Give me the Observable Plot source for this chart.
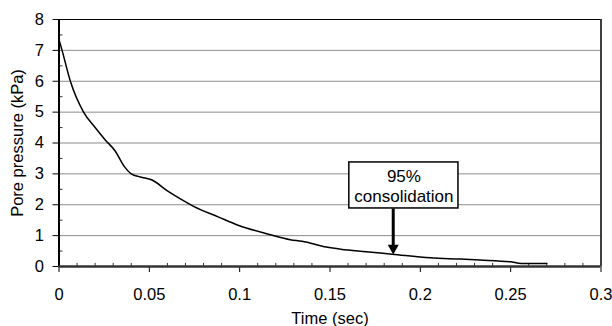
<!DOCTYPE html>
<html><head><meta charset="utf-8">
<script src="https://cdn.jsdelivr.net/npm/d3@7"></script>
<script src="https://cdn.jsdelivr.net/npm/@observablehq/plot@0.6"></script>
<style>
body{margin:0;background:#fff;}
#chart svg{display:block;}
</style>
</head><body><div id="chart"></div>
<script>
// Curve readings (time in sec, pore pressure in kPa)
const time = [0, 0.0017, 0.0063, 0.0136, 0.020, 0.0256, 0.031, 0.036, 0.040, 0.045, 0.0515, 0.0598, 0.0672, 0.0745, 0.0884, 0.0995, 0.117, 0.128, 0.1345, 0.148, 0.156, 0.17, 0.1844, 0.2056, 0.222, 0.233, 0.25, 0.256, 0.27];
const pressure = [7.35, 7.0, 6.0, 5.0, 4.5, 4.1, 3.75, 3.25, 3.0, 2.9, 2.8, 2.46, 2.19, 1.95, 1.6, 1.33, 1.03, 0.87, 0.82, 0.63, 0.56, 0.48, 0.40, 0.28, 0.24, 0.21, 0.15, 0.1, 0.1];

const xTicks = [0, 0.05, 0.1, 0.15, 0.2, 0.25, 0.3];
const xTickLabels = ["0", "0.05", "0.1", "0.15", "0.2", "0.25", "0.3"];
const xMinor = [0.01,0.02,0.03,0.04,0.06,0.07,0.08,0.09,0.11,0.12,0.13,0.14,0.16,0.17,0.18,0.19,0.21,0.22,0.23,0.24,0.26,0.27,0.28,0.29];
const yTicks = [0, 1, 2, 3, 4, 5, 6, 7, 8];
const yGrid = [1, 2, 3, 4, 5, 6, 7];
const yMinor = [0.5, 1.5, 2.5, 3.5, 4.5, 5.5, 6.5, 7.5];

// Annotation
const annotLabel = "95%\nconsolidation";
const annotTime = 0.185;       // where the arrow points
const annotPressure = 0.39;
const annotBoxTime = [0.1607, 0.2211];
const annotBoxPressure = [1.88, 3.37];
const annotTextTime = 0.1909;
const annotTextPressure = 2.62;

const curve = time.map((t, i) => ({t, p: pressure[i]}));
const FONT = '"Liberation Sans", Arial, Helvetica, sans-serif';

const chart = Plot.plot({
  width: 612,
  height: 326,
  marginLeft: 58.5,
  marginRight: 11.5,
  marginTop: 19,
  marginBottom: 60,
  style: {fontFamily: FONT, fontSize: "16.5px", background: "#fff", color: "#000"},
  x: {domain: [0, 0.3]},
  y: {domain: [0, 8]},
  marks: [
    Plot.ruleY(yGrid, {stroke: "#8c8c8c", strokeWidth: 1}),
    Plot.ruleY([8], {stroke: "#000", strokeWidth: 1.2}),
    Plot.ruleX([0.3], {stroke: "#000", strokeWidth: 1.5}),
    Plot.ruleX(xMinor, {y1: 0, y2: 0.1, stroke: "#333", strokeWidth: 1}),
    Plot.ruleY(yMinor, {x1: 0, x2: 0.0022, stroke: "#333", strokeWidth: 1}),
    Plot.axisY({ticks: yTicks, tickSize: 6, tickPadding: 9, fontSize: 16.5, label: "Pore pressure (kPa)", labelAnchor: "center", labelOffset: 48, labelArrow: "none"}),
    Plot.axisX({ticks: xTicks, tickFormat: (d, i) => xTickLabels[i], tickSize: 6, tickPadding: 16, fontSize: 16.5, label: "Time (sec)", labelAnchor: "center", labelOffset: 57, labelArrow: "none"}),
    Plot.line(curve, {x: "t", y: "p", stroke: "#000", strokeWidth: 1.5, curve: "monotone-x"}),
    Plot.ruleX([0], {stroke: "#000", strokeWidth: 2}),
    Plot.ruleY([0], {stroke: "#333", strokeWidth: 2.5}),
    Plot.rect([{}], {x1: () => annotBoxTime[0], x2: () => annotBoxTime[1], y1: () => annotBoxPressure[0], y2: () => annotBoxPressure[1], fill: "#fff", stroke: "#000", strokeWidth: 1.5}),
    Plot.text([annotLabel], {x: () => annotTextTime, y: () => annotTextPressure, text: d => d, fontSize: 17, lineHeight: 1.2, fill: "#000"}),
    Plot.link([{}], {x1: () => annotTime, x2: () => annotTime, y1: () => annotBoxPressure[0], y2: () => annotPressure + 0.22, stroke: "#000", strokeWidth: 3}),
    Plot.dot([{}], {x: () => annotTime, y: () => annotPressure, symbol: "triangle", r: 4.1, rotate: 180, fill: "#000", stroke: "none", dy: -6.4})
  ]
});
document.getElementById("chart").appendChild(chart);
</script>
</body></html>
